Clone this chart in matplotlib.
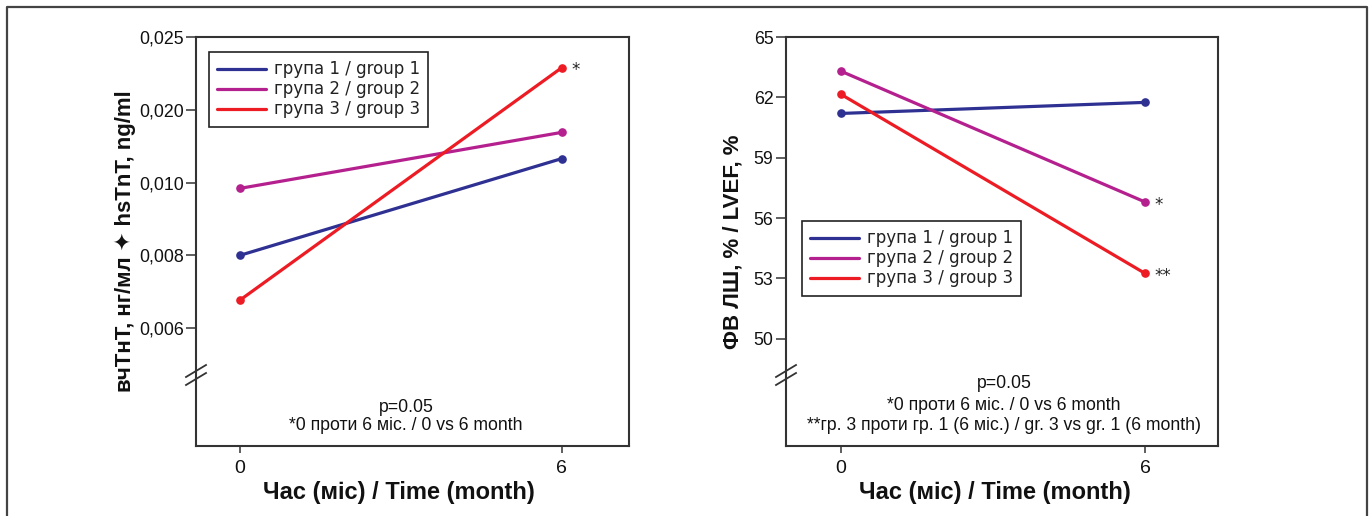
import numpy as np
import matplotlib
matplotlib.use("Agg")
import matplotlib.pyplot as plt
from matplotlib.lines import Line2D

# ---------------- data ----------------
months = [0, 6]
group_labels = ["група 1 / group 1", "група 2 / group 2", "група 3 / group 3"]
colors = ["#2e3192", "#b5208f", "#ed1c24"]

tnt_g1 = [0.0080, 0.0133]
tnt_g2 = [0.00984, 0.0169]
tnt_g3 = [0.00677, 0.0229]
tnt_ticks = [0.006, 0.008, 0.010, 0.020, 0.025]
tnt_ticklabels = ["0,006", "0,008", "0,010", "0,020", "0,025"]

lvef_g1 = [61.2, 61.75]
lvef_g2 = [63.3, 56.8]
lvef_g3 = [62.15, 53.25]
lvef_ticks = [50, 53, 56, 59, 62, 65]

x_ticks = [0, 6]

# ---------------- fonts ----------------
narrow = ["Liberation Sans", "DejaVu Sans"]
bold_fam = ["Liberation Sans", "DejaVu Sans"]
label_fam = ["Liberation Sans", "DejaVu Sans"]

# piecewise-linear (equal spacing between the tick values) scale with extrapolation
tk = np.array(tnt_ticks, dtype=float)
idx = np.arange(len(tk), dtype=float)


def fwd(v):
    v = np.asarray(v, dtype=float)
    out = np.interp(v, tk, idx)
    lo = v < tk[0]
    out = np.where(lo, (v - tk[0]) / (tk[1] - tk[0]), out)
    hi = v > tk[-1]
    out = np.where(hi, idx[-1] + (v - tk[-1]) / (tk[-1] - tk[-2]), out)
    return out


def inv(u):
    u = np.asarray(u, dtype=float)
    out = np.interp(u, idx, tk)
    lo = u < 0
    out = np.where(lo, tk[0] + u * (tk[1] - tk[0]), out)
    hi = u > idx[-1]
    out = np.where(hi, tk[-1] + (u - idx[-1]) * (tk[-1] - tk[-2]), out)
    return out


W, H = 1369, 516
fig = plt.figure(figsize=(W / 100, H / 100), dpi=100)

spine_col = "#333333"
TICK_FS = 12.8
XTICK_FS = 14
NOTE_FS = 12.7


def px_ax(x0, x1, ytop, ybot):
    return fig.add_axes([x0 / W, 1 - ybot / H, (x1 - x0) / W, (ybot - ytop) / H])


axL = px_ax(196, 629, 37, 446)
axR = px_ax(786, 1218, 37, 446)

for ax in (axL, axR):
    for s in ax.spines.values():
        s.set_color(spine_col)
        s.set_linewidth(1.5)
    ax.tick_params(axis="y", direction="out", length=7, width=1.1, pad=2,
                   colors=spine_col, labelcolor="#111111", labelsize=TICK_FS)
    ax.tick_params(axis="x", direction="out", length=5, width=1.1, pad=5,
                   colors=spine_col, labelcolor="#111111", labelsize=XTICK_FS)
    ax.set_xticks(x_ticks)

# ---------- left panel ----------
axL.set_yscale("function", functions=(fwd, inv))
for ys, c, lab in zip([tnt_g1, tnt_g2, tnt_g3], colors, group_labels):
    axL.plot(months, ys, color=c, lw=2.3, marker="o", ms=5.2, label=lab,
             solid_capstyle="round")
axL.set_xlim(-0.82, 7.25)
axL.set_ylim(inv(-1.62), 0.025)
axL.set_yticks(tnt_ticks)
axL.set_yticklabels(tnt_ticklabels, family=narrow)
axL.set_xticklabels([str(v) for v in x_ticks], family=narrow)
axL.annotate("*", (months[1], tnt_g3[1]), xytext=(7, -2), textcoords="offset points",
             fontsize=12, ha="left", va="center", color="#222222")

# ---------- right panel ----------
for ys, c, lab in zip([lvef_g1, lvef_g2, lvef_g3], colors, group_labels):
    axR.plot(months, ys, color=c, lw=2.3, marker="o", ms=5.2, label=lab,
             solid_capstyle="round")
axR.set_xlim(-1.085, 7.44)
axR.set_ylim(44.67, 65)
axR.set_yticks(lvef_ticks)
axR.set_yticklabels([str(v) for v in lvef_ticks], family=narrow)
axR.set_xticklabels([str(v) for v in x_ticks], family=narrow)
axR.annotate("*", (months[1], lvef_g2[1]), xytext=(7, -2), textcoords="offset points",
             fontsize=12, ha="left", va="center", color="#222222")
axR.annotate("**", (months[1], lvef_g3[1]), xytext=(7, -2), textcoords="offset points",
             fontsize=12, ha="left", va="center", color="#222222")

# legends
for ax, anchor in ((axL, (0.030, 0.963)), (axR, (0.037, 0.550))):
    leg = ax.legend(loc="upper left", bbox_to_anchor=anchor, frameon=True,
                    fancybox=False, framealpha=1, edgecolor="#222222",
                    prop={"family": "DejaVu Sans", "size": 12},
                    handlelength=2.9, handletextpad=0.5, labelspacing=0.12,
                    borderpad=0.5, borderaxespad=0)
    leg.get_frame().set_linewidth(1.2)
    for h in leg.legend_handles:
        h.set_marker("")
        h.set_linewidth(2.3)
    for t in leg.get_texts():
        t.set_color("#222222")

# axis break marks
for ax, yb in ((axL, 375), (axR, 375)):
    bbox = ax.get_position()
    for dy in (-4, 4):
        yc = 1 - (yb + dy) / H
        ycf = (yc - bbox.y0) / bbox.height
        dx = 10 / (bbox.width * W)
        dyf = 6 / (bbox.height * H)
        ax.add_line(Line2D([-dx, dx], [ycf - dyf, ycf + dyf], transform=ax.transAxes,
                           color=spine_col, lw=1.3, clip_on=False))

# notes
def axfrac_y(py):
    return (446 - py) / 409


axL.text(0.485, axfrac_y(407), "p=0.05", transform=axL.transAxes, ha="center",
         va="center", fontsize=NOTE_FS, family=narrow, color="#111111")
axL.text(0.485, axfrac_y(425), "*0 проти 6 міс. / 0 vs 6 month", transform=axL.transAxes,
         ha="center", va="center", fontsize=NOTE_FS, family=narrow, color="#111111")
axR.text(0.505, axfrac_y(384), "p=0.05", transform=axR.transAxes, ha="center",
         va="center", fontsize=NOTE_FS, family=narrow, color="#111111")
axR.text(0.505, axfrac_y(405), "*0 проти 6 міс. / 0 vs 6 month", transform=axR.transAxes,
         ha="center", va="center", fontsize=NOTE_FS, family=narrow, color="#111111")
axR.text(0.504, axfrac_y(425), "**гр. 3 проти гр. 1 (6 міс.) / gr. 3 vs gr. 1 (6 month)",
         transform=axR.transAxes, ha="center", va="center", fontsize=NOTE_FS, family=narrow,
         color="#111111")

# axis labels
axL.text((399 - 196) / 433, axfrac_y(492), "Час (міс) / Time (month)", transform=axL.transAxes,
         ha="center", va="center", fontsize=17, fontweight="bold", family=bold_fam,
         color="#111111")
axR.text((995 - 786) / 432, axfrac_y(492), "Час (міс) / Time (month)", transform=axR.transAxes,
         ha="center", va="center", fontsize=17, fontweight="bold", family=bold_fam,
         color="#111111")
axL.text((125 - 196) / 433, 0.5, "вчТнТ, нг/мл ✦ hsTnT, ng/ml", transform=axL.transAxes,
         ha="center", va="center", rotation=90, fontsize=16, fontweight="bold",
         family=label_fam, color="#111111")
axR.text((733 - 786) / 432, 0.5, "ФВ ЛШ, % / LVEF, %", transform=axR.transAxes,
         ha="center", va="center", rotation=90, fontsize=16, fontweight="bold",
         family=label_fam, color="#111111")

# outer frame (open at the bottom)
fx0, fx1, fy = 7 / W, 1367 / W, 1 - 6.5 / H
fig.add_artist(Line2D([fx0, fx0, fx1, fx1], [0, fy, fy, 0], transform=fig.transFigure,
                      color="#444444", lw=1.6))

fig.savefig("out.png", dpi=100)
